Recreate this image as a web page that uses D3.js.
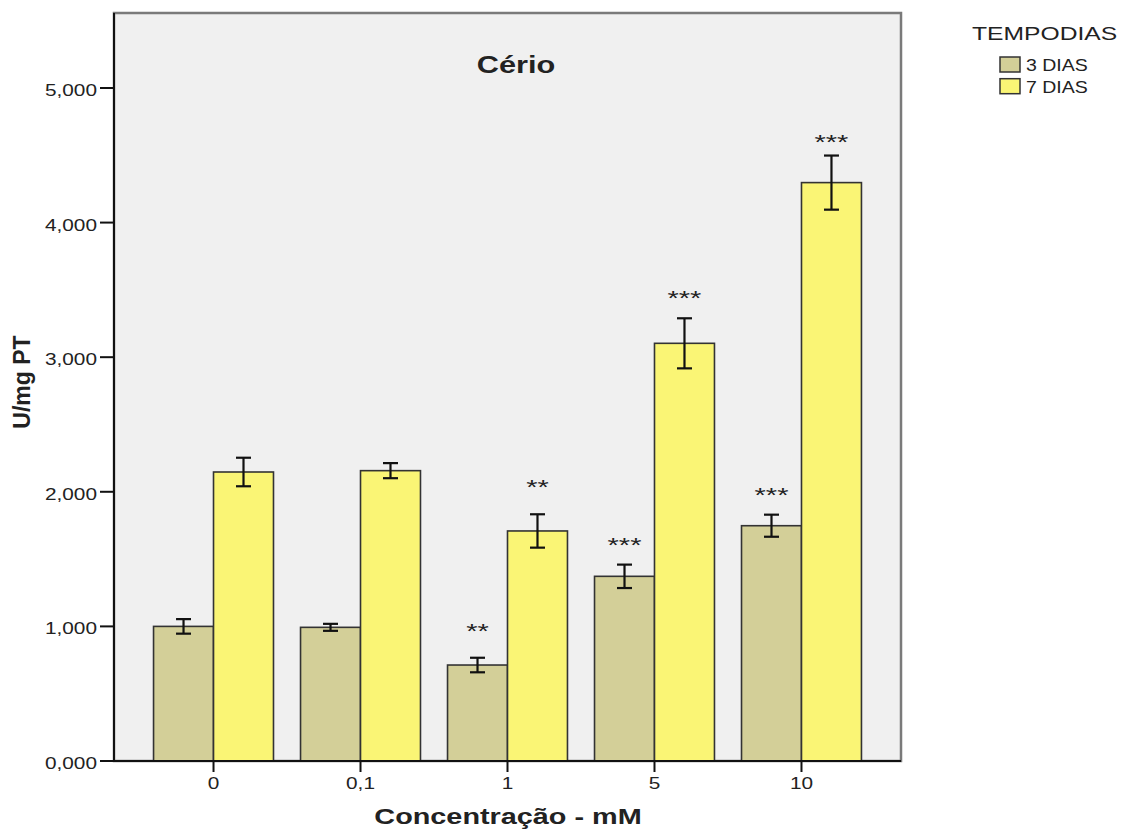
<!DOCTYPE html>
<html>
<head>
<meta charset="utf-8">
<script src="https://cdn.jsdelivr.net/npm/d3@7/dist/d3.min.js"></script>
<style>
  body { margin: 0; background: #fff; }
  text { font-family: "Liberation Sans", Arial, sans-serif; fill: #222; }
</style>
</head>
<body>
<div id="chart"></div>
<script>
// data
const categories = ['0', '0,1', '1', '5', '10'];
const series = ['3 DIAS', '7 DIAS'];
const dias3 = [1.000, 0.993, 0.713, 1.372, 1.748];
const dias7 = [2.147, 2.157, 1.709, 3.103, 4.297];
const err3 = [0.054, 0.026, 0.054, 0.087, 0.082];
const err7 = [0.106, 0.056, 0.124, 0.186, 0.201];
// significance labels and the level where each sits (in U/mg PT)
const stars3 = ['', '', '**', '***', '***'];
const stars7 = ['', '', '**', '***', '***'];
const starLevel3 = [0, 0, 0.988, 1.627, 1.996];
const starLevel7 = [0, 0, 2.058, 3.462, 4.621];
const yTicks = [0, 1, 2, 3, 4, 5];

const COLORS = ['#d3cf98', '#faf575'];
const W = 1125;
const H = 833;
const plot = { left: 114, top: 13, right: 901, bottom: 761 };
const SX = 1.3; // the source renders its text wide

const rows = categories.map((c, i) => ({
  cat: c,
  bars: [
    { s: series[0], v: dias3[i], e: err3[i], star: stars3[i], lvl: starLevel3[i] },
    { s: series[1], v: dias7[i], e: err7[i], star: stars7[i], lvl: starLevel7[i] },
  ],
}));

const fmt = d3.formatLocale({ decimal: ',', thousands: '.', grouping: [3], currency: ['', ''] }).format('.3f');

const svg = d3.select('#chart').append('svg').attr('width', W).attr('height', H);
svg.append('rect').attr('width', W).attr('height', H).attr('fill', '#fff');

const x0 = d3.scaleBand()
  .domain(categories)
  .range([plot.left, plot.right])
  .paddingInner(0.184)
  .paddingOuter(0.269);
const x1 = d3.scaleBand().domain(series).range([0, x0.bandwidth()]);
const y = d3.scaleLinear().domain([0, 5.557]).range([plot.bottom, plot.top]);
const color = d3.scaleOrdinal().domain(series).range(COLORS);

// wide text helper
const wideText = (sel, x, y, str, opts = {}) => sel.append('text')
  .attr('transform', `translate(${x},${y}) scale(${opts.sx || SX},1)`)
  .attr('text-anchor', opts.anchor || 'middle')
  .style('font-size', `${opts.size || 16}px`)
  .style('font-weight', opts.bold ? 'bold' : 'normal')
  .text(str);

// plot background and frame
svg.append('rect')
  .attr('x', plot.left).attr('y', plot.top)
  .attr('width', plot.right - plot.left).attr('height', plot.bottom - plot.top)
  .attr('fill', '#f0f0f0')
  .attr('stroke', '#7a7a7a').attr('stroke-width', 2.5);

// bars
const groups = svg.selectAll('.grp')
  .data(rows)
  .enter()
  .append('g')
  .attr('class', 'grp')
  .attr('transform', d => `translate(${x0(d.cat)},0)`);

groups.selectAll('rect')
  .data(d => d.bars)
  .enter()
  .append('rect')
  .attr('x', d => x1(d.s))
  .attr('y', d => y(d.v))
  .attr('width', x1.bandwidth())
  .attr('height', d => y(0) - y(d.v))
  .attr('fill', d => color(d.s))
  .attr('stroke', '#333')
  .attr('stroke-width', 1.6);

// error bars
const eb = groups.selectAll('.eb')
  .data(d => d.bars)
  .enter()
  .append('g')
  .attr('class', 'eb')
  .attr('transform', d => `translate(${x1(d.s) + x1.bandwidth() / 2},0)`)
  .attr('stroke', '#111')
  .attr('stroke-width', 2.2);
eb.append('line').attr('y1', d => y(d.v + d.e)).attr('y2', d => y(d.v - d.e));
eb.append('line').attr('x1', -7.5).attr('x2', 7.5).attr('y1', d => y(d.v + d.e)).attr('y2', d => y(d.v + d.e));
eb.append('line').attr('x1', -7.5).attr('x2', 7.5).attr('y1', d => y(d.v - d.e)).attr('y2', d => y(d.v - d.e));

// significance stars
groups.selectAll('.star')
  .data(d => d.bars.filter(b => b.star))
  .enter()
  .append('text')
  .attr('class', 'star')
  .attr('transform', d => `translate(${x1(d.s) + x1.bandwidth() / 2},${y(d.lvl) + 10}) scale(1.45,1)`)
  .attr('text-anchor', 'middle')
  .style('font-size', '20px')
  .text(d => d.star);

// axes
svg.append('line')
  .attr('x1', plot.left).attr('x2', plot.left)
  .attr('y1', plot.top).attr('y2', plot.bottom)
  .attr('stroke', '#111').attr('stroke-width', 2);
svg.append('line')
  .attr('x1', plot.left).attr('x2', plot.right)
  .attr('y1', plot.bottom).attr('y2', plot.bottom)
  .attr('stroke', '#111').attr('stroke-width', 2);

const yAx = svg.append('g');
yTicks.forEach(t => {
  yAx.append('line')
    .attr('x1', plot.left - 14).attr('x2', plot.left)
    .attr('y1', y(t)).attr('y2', y(t))
    .attr('stroke', '#111').attr('stroke-width', 2);
  wideText(yAx, plot.left - 17, y(t) + 8, fmt(t), { anchor: 'end', size: 16 });
});

const xAx = svg.append('g');
categories.forEach(c => {
  const cx = x0(c) + x0.bandwidth() / 2;
  xAx.append('line')
    .attr('x1', cx).attr('x2', cx)
    .attr('y1', plot.bottom).attr('y2', plot.bottom + 11)
    .attr('stroke', '#111').attr('stroke-width', 2);
  wideText(xAx, cx, 789, c, { size: 16 });
});

// titles
wideText(svg, 516, 73, 'Cério', { size: 24, bold: true, sx: 1.28 });
wideText(svg, 508, 824, 'Concentração - mM', { size: 22, bold: true, sx: 1.31 });
svg.append('text')
  .attr('transform', 'translate(30,382) rotate(-90)')
  .attr('text-anchor', 'middle')
  .style('font-size', '23px')
  .style('font-weight', 'bold')
  .text('U/mg PT');

// legend
const lg = svg.append('g');
wideText(lg, 972, 40, 'TEMPODIAS', { anchor: 'start', size: 18, sx: 1.37 });
series.forEach((s, i) => {
  lg.append('rect')
    .attr('x', 1000).attr('y', 57 + i * 21.7)
    .attr('width', 20).attr('height', 15)
    .attr('fill', color(s))
    .attr('stroke', '#333').attr('stroke-width', 1.5);
  wideText(lg, 1026, 71 + i * 21.7, s, { anchor: 'start', size: 16, sx: 1.22 });
});
</script>
</body>
</html>
